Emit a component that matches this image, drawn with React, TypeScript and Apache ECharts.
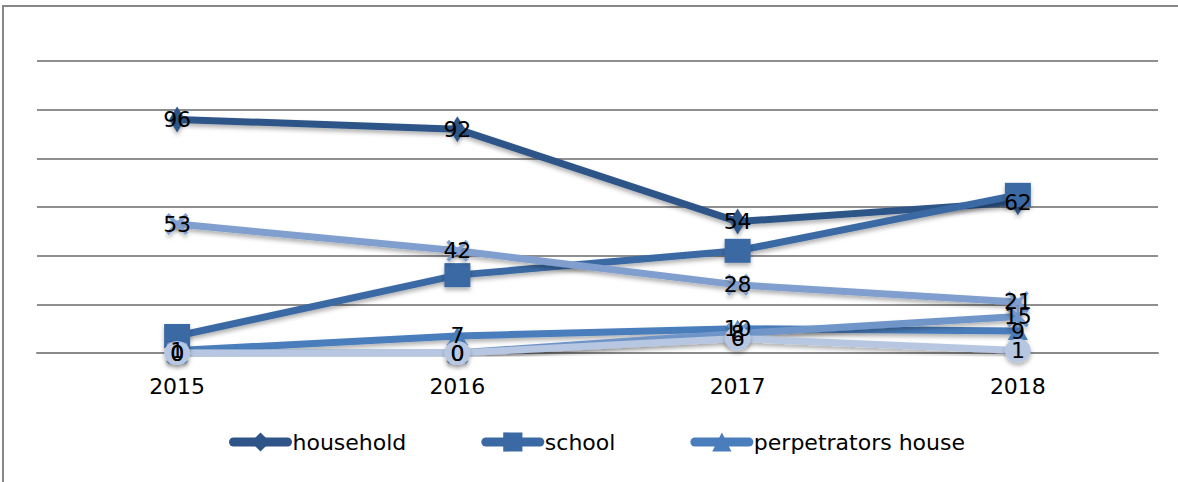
import React, { useEffect, useRef } from "react";
import * as echarts from "echarts";

const years = ["2015", "2016", "2017", "2018"];
const household = [96, 92, 54, 62];
const school = [7, 32, 42, 65];
const perpetratorsHouse = [1, 7, 10, 9];
const street = [53, 42, 28, 21];
const otherPlace = [0, 0, 8, 15];
const unknownPlace = [0, 0, 6, 1];
const legendNames = ["household", "school", "perpetrators house"];

const FONT = "DejaVu Sans";
const X_PATH =
  "path://M0,1.2 L1.2,0 L5,3.8 L8.8,0 L10,1.2 L6.2,5 L10,8.8 L8.8,10 L5,6.2 L1.2,10 L0,8.8 L3.8,5 Z";
const STAR_PATH =
  "path://M0,1.2 L1.2,0 L5,3.8 L8.8,0 L10,1.2 L6.2,5 L10,8.8 L8.8,10 L5,6.2 L1.2,10 L0,8.8 L3.8,5 Z M4.4,0 L5.6,0 L5.6,10 L4.4,10 Z";

function mkSeries(
  name: string,
  data: number[],
  color: string,
  symbol: string,
  symbolSize: number | number[],
  showLabel: boolean
) {
  return {
    name,
    type: "line",
    data,
    symbol,
    symbolSize,
    showSymbol: true,
    lineStyle: {
      color,
      width: 7,
      cap: "round",
      shadowColor: "rgba(0,0,0,0.3)",
      shadowBlur: 4,
      shadowOffsetY: 3,
    },
    itemStyle: {
      color,
      borderColor: color,
      borderWidth: 0,
      shadowColor: "rgba(0,0,0,0.3)",
      shadowBlur: 4,
      shadowOffsetY: 3,
    },
    label: {
      show: showLabel,
      position: "inside",
      color: "#000",
      fontFamily: FONT,
      fontSize: 22,
    },
    z: 2,
  };
}

export default function App() {
  const ref = useRef<HTMLDivElement>(null);
  useEffect(() => {
    document.body.style.margin = "0";
    if (!ref.current) return;
    const chart = echarts.init(ref.current, null, { renderer: "svg" });
    chart.setOption({
      animation: false,
      backgroundColor: "#fff",
      textStyle: { fontFamily: FONT },
      grid: { left: 37, right: 20, top: 61, height: 292, containLabel: false },
      graphic: [
        {
          type: "rect",
          shape: { x: 3, y: 6, width: 1200, height: 500 },
          style: { fill: "none", stroke: "#878787", lineWidth: 2 },
          silent: true,
        },
      ],
      legend: {
        data: legendNames,
        left: 224,
        top: 426,
        itemWidth: 54,
        itemHeight: 24,
        itemGap: 75,
        lineStyle: { width: 9, cap: "round", shadowBlur: 0 },
        itemStyle: { shadowBlur: 0 },
        textStyle: { fontFamily: FONT, fontSize: 22, color: "#000" },
      },
      xAxis: {
        type: "category",
        data: years,
        boundaryGap: true,
        axisLine: { lineStyle: { color: "#8a8a8a", width: 2 } },
        axisTick: { show: false },
        axisLabel: { color: "#000", fontFamily: FONT, fontSize: 22, margin: 22 },
      },
      yAxis: {
        type: "value",
        min: 0,
        max: 120,
        interval: 20,
        axisLabel: { show: false },
        axisLine: { show: false },
        axisTick: { show: false },
        splitLine: { lineStyle: { color: "#8f8f8f", width: 2 } },
      },
      series: [
        mkSeries("household", household, "#2f5588", "diamond", [16, 26], true),
        mkSeries("school", school, "#3a69a3", "rect", [26, 24], false),
        mkSeries("perpetrators house", perpetratorsHouse, "#4a7dbb", "triangle", [20, 18], true),
        mkSeries("street", street, "#819fce", X_PATH, [22, 22], true),
        mkSeries("other", otherPlace, "#6f95c9", STAR_PATH, [22, 22], true),
        mkSeries("unknown", unknownPlace, "#b7c7e1", "circle", [26, 24], true),
      ],
    });
    return () => chart.dispose();
  }, []);
  return <div ref={ref} style={{ width: 1178, height: 482 }} />;
}
